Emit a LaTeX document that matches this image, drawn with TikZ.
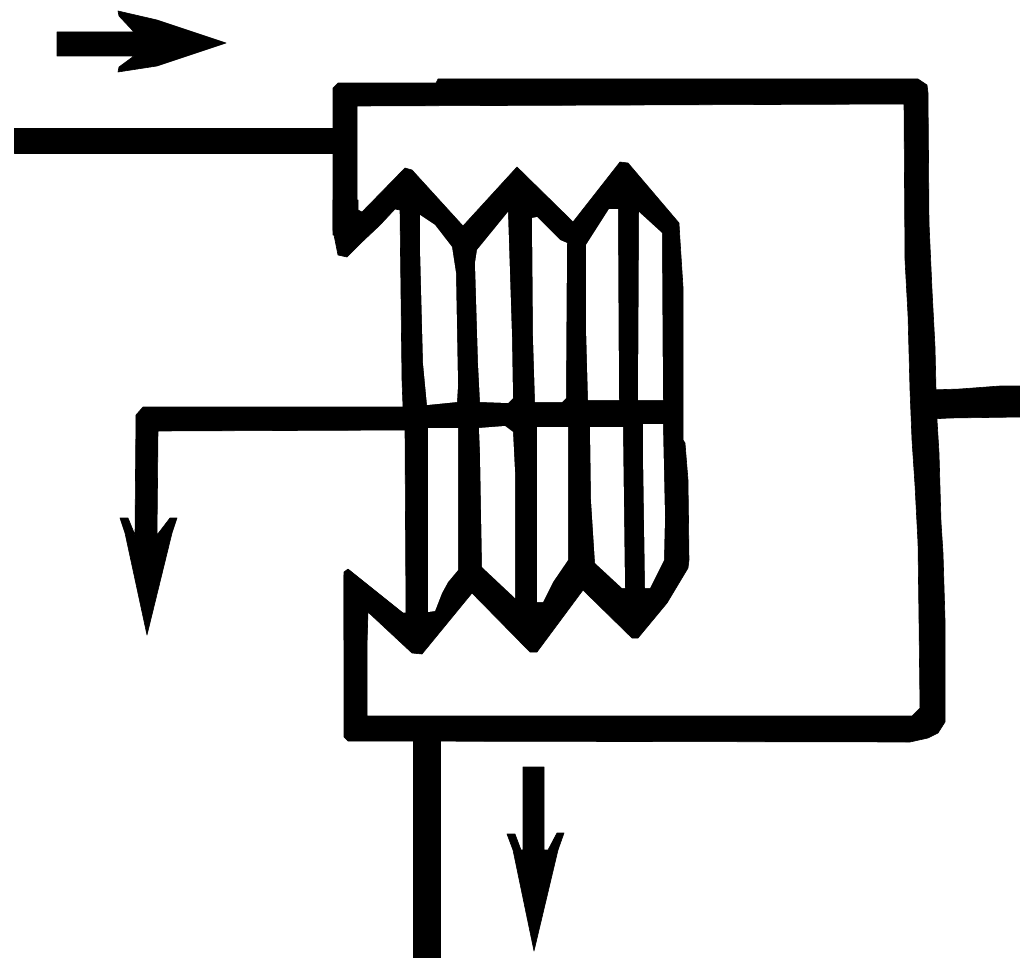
\documentclass[tikz,border=0pt]{standalone}
\tikzset{
  solid part/.style={fill=black,draw=black,line width=0.6pt,line join=round},
  cell/.style={fill=white,draw=none}
}
\begin{document}
\begin{tikzpicture}[x=1pt,y=-1pt]
\useasboundingbox (0,0) rectangle (1020,958);
% casing
\fill[solid part] (333,235) -- (333,88) -- (338,83) -- (436,83) -- (438,79) -- (918,79) -- (927,85) -- (928,93) -- (929,223) -- (932,290) -- (935,347) -- (936,390) -- (937,420) -- (939,453) -- (941,522) -- (943,553) -- (945,620) -- (945,722) -- (938,733) -- (928,738) -- (910,742) -- (348,741) -- (344,737) -- (344,575) -- (367,600) -- (367,716) -- (912,716) -- (920,708) -- (919,620) -- (918,543) -- (915,485) -- (912,440) -- (910,390) -- (908,315) -- (905,260) -- (904,104) -- (357,106) -- (357,235) -- cycle;
% bellows silhouette
\fill[solid part] (333,230) -- (333,200) -- (358,200) -- (358,210) -- (362,212) -- (405,168) -- (412,170) -- (463,226) -- (517,167) -- (573,222) -- (620,162) -- (628,163) -- (679,223) -- (680,240) -- (683,287) -- (683,440) -- (685,443) -- (688,480) -- (689,560) -- (688,568) -- (667,603) -- (638,638) -- (632,638) -- (583,590) -- (537,652) -- (530,652) -- (472,593) -- (422,654) -- (412,653) -- (368,612) -- (367,640) -- (344,640) -- (344,572) -- (348,569) -- (403,613) -- (406,613) -- (405,430) -- (403,407) -- (402,380) -- (400,210) -- (395,209) -- (380,225) -- (362,242) -- (347,257) -- (338,255) -- cycle;
% cells of the bellows, upper half
\fill[cell] (420,215) -- (435,225) -- (452,247) -- (456,273) -- (458,385) -- (457,402) -- (427,405) -- (423,363) -- (420,247) -- cycle;
\fill[cell] (477,250) -- (508,212) -- (512,337) -- (513,398) -- (508,403) -- (480,402) -- (478,363) -- (475,263) -- cycle;
\fill[cell] (532,218) -- (537,217) -- (560,240) -- (567,243) -- (566,398) -- (562,402) -- (535,402) -- (533,337) -- cycle;
\fill[cell] (586,245) -- (609,209) -- (618,209) -- (619,400) -- (588,400) -- (586,327) -- cycle;
\fill[cell] (639,212) -- (662,233) -- (663,400) -- (638,400) -- cycle;
% cells of the bellows, lower half
\fill[cell] (428,428) -- (458,428) -- (458,570) -- (448,582) -- (442,593) -- (435,611) -- (428,612) -- cycle;
\fill[cell] (479,428) -- (505,426) -- (513,432) -- (515,472) -- (515,598) -- (482,567) -- (480,453) -- cycle;
\fill[cell] (537,427) -- (568,427) -- (568,560) -- (553,582) -- (543,602) -- (537,602) -- cycle;
\fill[cell] (590,427) -- (623,427) -- (625,588) -- (622,588) -- (595,563) -- (591,500) -- cycle;
\fill[cell] (643,424) -- (663,424) -- (665,517) -- (664,560) -- (650,588) -- (645,588) -- (643,453) -- cycle;
% inner outlet with arrow
\fill[solid part] (136,415) -- (143,407) -- (410,407) -- (410,430) -- (158,431) -- (157,535) -- (170,518) -- (177,518) -- (172,533) -- (147,635) -- (125,533) -- (120,518) -- (128,518) -- (135,535) -- cycle;
% pipes
\fill[solid part] (14,128) -- (335,128) -- (335,153) -- (14,153) -- cycle;
\fill[solid part] (413,735) -- (440,735) -- (440,958) -- (413,958) -- cycle;
\fill[solid part] (930,390) -- (960,389) -- (1000,386) -- (1020,386) -- (1020,417) -- (950,418) -- (930,419) -- cycle;
% flow arrows
\fill[solid part] (57,32) -- (134,32) -- (119,16) -- (118,11) -- (157,20) -- (226,43) -- (157,66) -- (118,72) -- (119,67) -- (134,56) -- (57,56) -- cycle;
\fill[solid part] (523,767) -- (544,767) -- (544,850) -- (548,850) -- (557,833) -- (564,833) -- (558,850) -- (534,951) -- (513,850) -- (507,834) -- (515,834) -- (521,850) -- (523,850) -- cycle;
\end{tikzpicture}
\end{document}
